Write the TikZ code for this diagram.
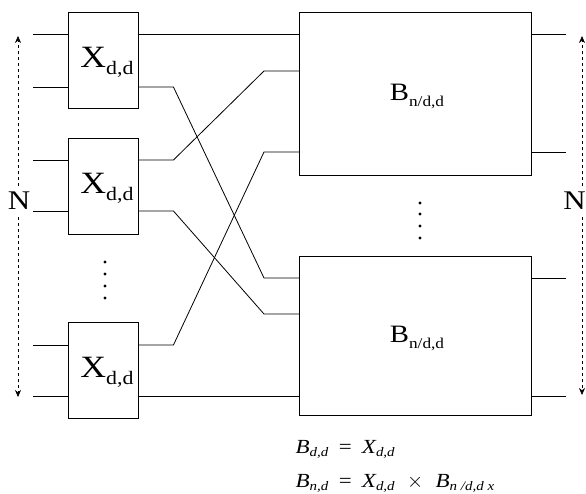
\documentclass[tikz,border=0pt]{standalone}
\usepackage{fontspec}
\setmainfont{Liberation Serif}[FakeStretch=1.15]
\usetikzlibrary{arrows.meta}
\newcommand\lblX{{\fontsize{31}{31}\selectfont X\raisebox{-7pt}{\fontsize{19}{19}\selectfont d,d}}}
\newcommand\lblB{{\fontsize{25}{25}\selectfont B\raisebox{-6pt}{\fontsize{15}{15}\selectfont n/d,d}}}
\newcommand\fsub[1]{\raisebox{-3.5pt}{\fontsize{13}{13}\selectfont\itshape #1}}
\begin{document}
\begin{tikzpicture}[x=1pt,y=-1pt,
  xbox/.style={draw,line width=0.9pt,minimum width=70pt,minimum height=96pt,inner sep=0pt},
  bbox/.style={draw,line width=0.9pt,minimum width=232pt,inner sep=0pt},
  wire/.style={line width=0.8pt},
  span/.style={dashed,line width=0.6pt,-{Stealth[length=7pt,width=6pt]}},
  dotn/.style={circle,fill,inner sep=1.2pt},
  lbl/.style={font=\fontsize{27}{27}\selectfont,inner sep=0pt}]
\useasboundingbox (0,0) rectangle (586,493);
% X boxes
\node[xbox] (x1) at (103,60) {};
\node[xbox] (x2) at (103,186) {};
\node[xbox] (x3) at (103,370) {};
\node (x1l) at (107,62) {\lblX};
\node (x2l) at (107,188) {\lblX};
\node (x3l) at (107,372) {\lblX};
% B boxes
\node[bbox,minimum height=163pt] (b1) at (415,93.5) {};
\node[bbox,minimum height=159pt] (b2) at (415,335.5) {};
\node (b1l) at (417,96) {\lblB};
\node (b2l) at (417,338) {\lblB};
% left inputs
\foreach \n/\y in {1/34,2/87,3/160,4/211,5/345,6/396}{\coordinate (L\n) at (33,\y);}
% B inputs
\foreach \n/\y in {1/34,2/71,3/152,4/278,5/314,6/396}{\coordinate (I\n) at (299,\y);}
% B outputs
\foreach \n/\y in {1/34,2/152,3/278,4/396}{\coordinate (R\n) at (566,\y);}
\draw[wire] (L1) -- (x1.west |- L1);
\draw[wire] (L2) -- (x1.west |- L2);
\draw[wire] (L3) -- (x2.west |- L3);
\draw[wire] (L4) -- (x2.west |- L4);
\draw[wire] (L5) -- (x3.west |- L5);
\draw[wire] (L6) -- (x3.west |- L6);
% interconnect
\draw[wire] (x1.east |- L1) -- (I1);
\draw[wire] (x1.east |- L2) -- ([xshift=35pt]x1.east |- L2) -- ([xshift=-35pt]I4) -- (I4);
\draw[wire] (x2.east |- L3) -- ([xshift=35pt]x2.east |- L3) -- ([xshift=-35pt]I2) -- (I2);
\draw[wire] (x2.east |- L4) -- ([xshift=35pt]x2.east |- L4) -- ([xshift=-35pt]I5) -- (I5);
\draw[wire] (x3.east |- L5) -- ([xshift=35pt]x3.east |- L5) -- ([xshift=-35pt]I3) -- (I3);
\draw[wire] (x3.east |- L6) -- (I6);
% outputs
\draw[wire] (b1.east |- R1) -- (R1);
\draw[wire] (b1.east |- R2) -- (R2);
\draw[wire] (b2.east |- R3) -- (R3);
\draw[wire] (b2.east |- R4) -- (R4);
% dots
\node[dotn] (d1) at (105,262) {};
\node[dotn] (d2) at (105,274) {};
\node[dotn] (d3) at (105,286) {};
\node[dotn] (d4) at (105,298) {};
\node[dotn] (e1) at (420,203) {};
\node[dotn] (e2) at (420,214) {};
\node[dotn] (e3) at (420,226) {};
\node[dotn] (e4) at (420,238) {};
% N spans
\node[lbl] (nl) at (19,201) {N};
\node[lbl,anchor=east] (nr) at (586,201) {N};
\coordinate (la) at (18,36); \coordinate (lb) at (18,397);
\coordinate (ra) at (582,36); \coordinate (rb) at (582,395);
\coordinate (la0) at (18,186); \coordinate (lb0) at (18,217);
\coordinate (ra0) at (582,186); \coordinate (rb0) at (582,217);
\draw[span] (la0) -- (la);
\draw[span] (lb0) -- (lb);
\draw[span] (ra0) -- (ra);
\draw[span] (rb0) -- (rb);
% formulas
\node[anchor=base west,font=\fontsize{20}{20}\selectfont\itshape] (f1) at (292,453)
  {B\fsub{d,d} \,=\, X\fsub{d,d}};
\node[anchor=base west,font=\fontsize{20}{20}\selectfont\itshape] (f2) at (292,487)
  {B\fsub{n,d} \,=\, X\fsub{d,d} \,\,\upshape$\times$\itshape\,\, B\fsub{n /d,d x}};
\end{tikzpicture}
\end{document}
